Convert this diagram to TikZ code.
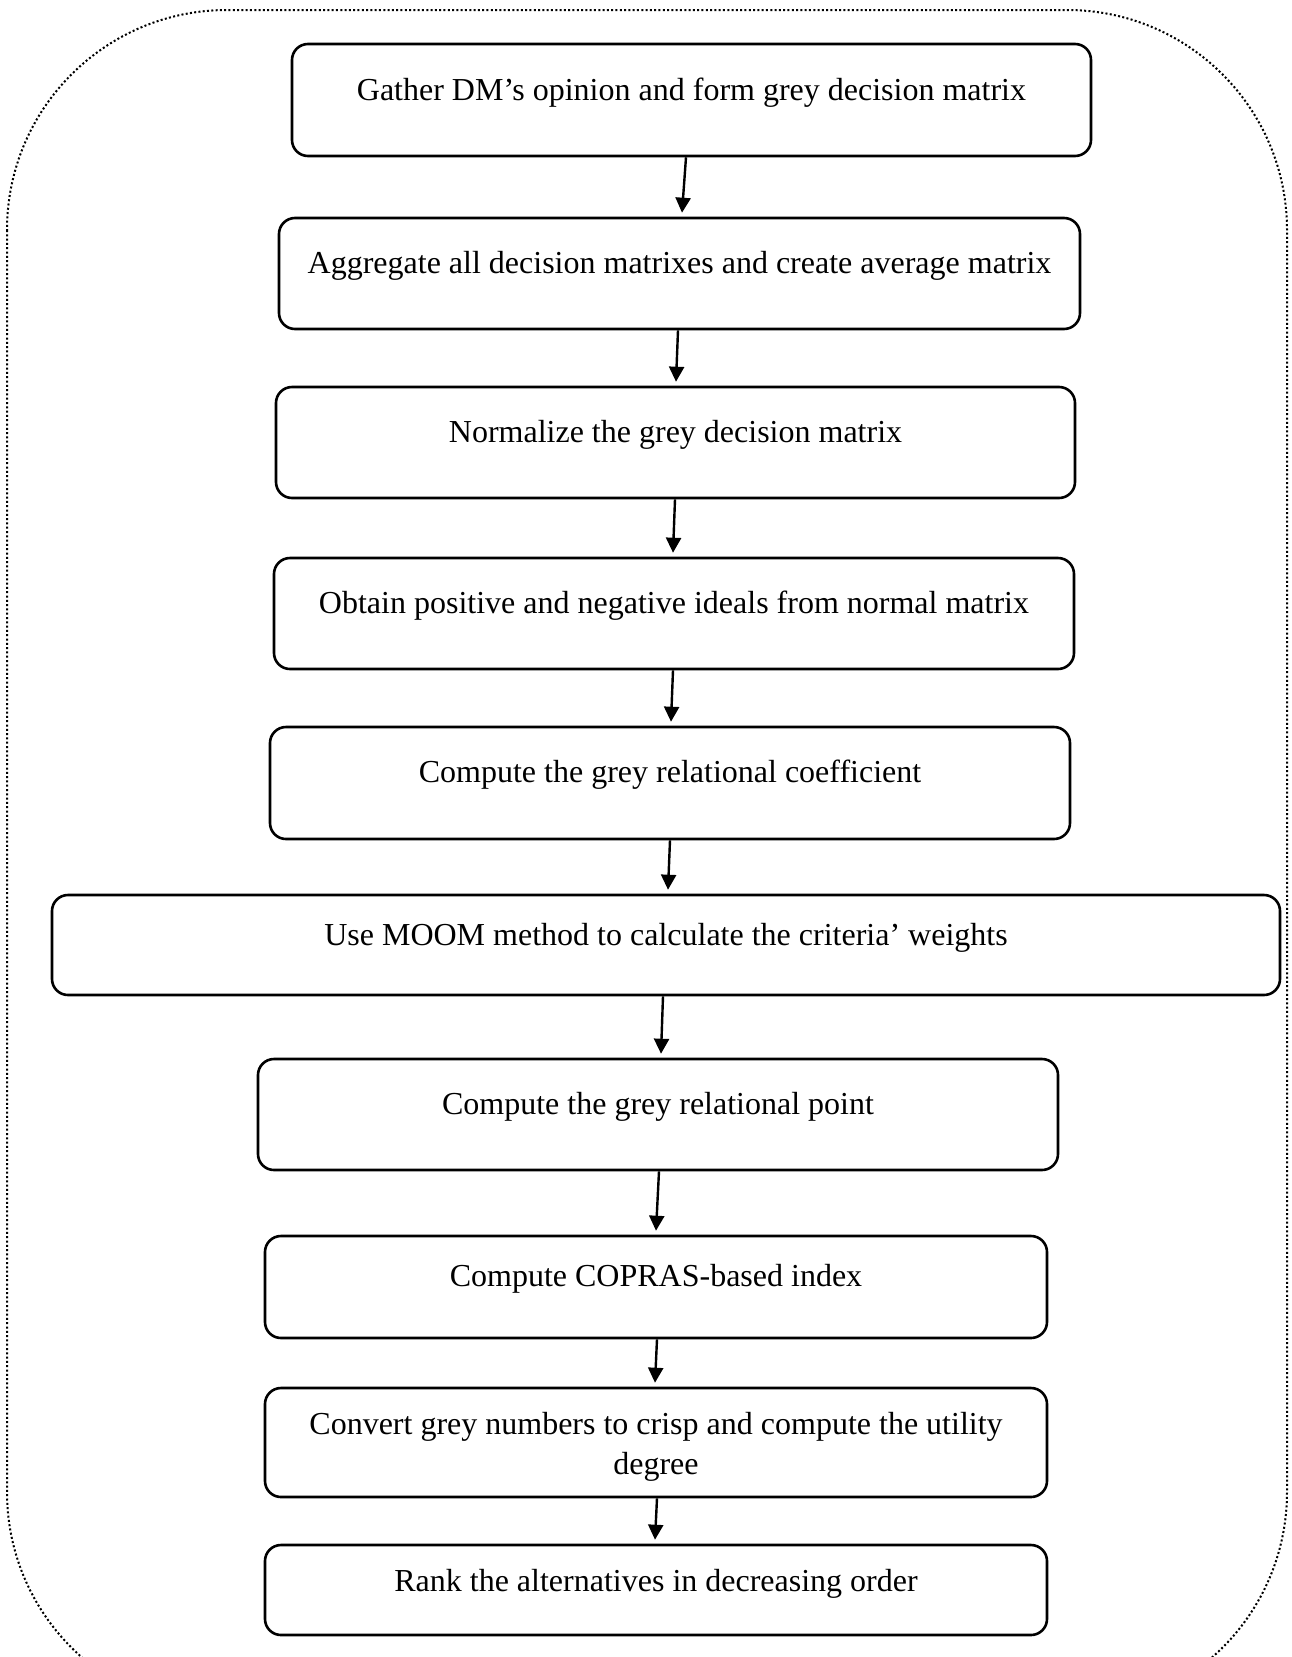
\documentclass[tikz,border=0pt]{standalone}
\usepackage{fontspec}
\setmainfont{Liberation Serif}
\usetikzlibrary{arrows.meta,calc}
\begin{document}
\begin{tikzpicture}[x=1pt,y=-1pt,
  stepbox/.style={draw=black,line width=2.6pt,rounded corners=16pt,inner sep=0pt,minimum width=800pt,minimum height=111pt},
  steptext/.style={anchor=base,inner sep=0pt,align=center,font=\fontsize{32}{40}\selectfont},
  flow/.style={line width=2.4pt,-{Triangle[length=15pt,width=15pt]}},
  frame/.style={line width=2pt,dash pattern=on 2pt off 2.3pt,rounded corners=220pt}]
\useasboundingbox (0,0) rectangle (1291,1657);
\draw[frame] (7,10) rectangle (1287,1712);
% boxes
\node[stepbox,minimum width=799pt,minimum height=112pt] (b1) at (691.5,100) {};
\node[stepbox,minimum width=801pt] (b2) at (679.5,273.5) {};
\node[stepbox,minimum width=799pt] (b3) at (675.5,442.5) {};
\node[stepbox] (b4) at (674,613.5) {};
\node[stepbox,minimum height=112pt] (b5) at (670,783) {};
\node[stepbox,minimum width=1228pt,minimum height=100pt] (b6) at (666,945) {};
\node[stepbox] (b7) at (658,1114.5) {};
\node[stepbox,minimum width=782pt,minimum height=102pt] (b8) at (656,1287) {};
\node[stepbox,minimum width=782pt,minimum height=109pt] (b9) at (656,1442.5) {};
\node[stepbox,minimum width=782pt,minimum height=90pt] (b10) at (656,1590) {};
% texts
\node[steptext] (t1) at ($(b1.north)+(0,58)$) {Gather DM’s opinion and form grey decision matrix};
\node[steptext] (t2) at ($(b2.north)+(0,57)$) {Aggregate all decision matrixes and create average matrix};
\node[steptext] (t3) at ($(b3.north)+(0,57)$) {Normalize the grey decision matrix};
\node[steptext] (t4) at ($(b4.north)+(0,57)$) {Obtain positive and negative ideals from normal matrix};
\node[steptext] (t5) at ($(b5.north)+(0,57)$) {Compute the grey relational coefficient};
\node[steptext] (t6) at ($(b6.north)+(0,52)$) {Use MOOM method to calculate the criteria’ weights};
\node[steptext] (t7) at ($(b7.north)+(0,57)$) {Compute the grey relational point};
\node[steptext] (t8) at ($(b8.north)+(0,52)$) {Compute COPRAS-based index};
\node[steptext] (t9a) at ($(b9.north)+(0,48)$) {Convert grey numbers to crisp and compute the utility};
\node[steptext] (t9b) at ($(b9.north)+(0,88)$) {degree};
\node[steptext] (t10) at ($(b10.north)+(0,48)$) {Rank the alternatives in decreasing order};
% arrows
\draw[flow] ([xshift=-5.5pt]b1.south) -- ([xshift=2.5pt,yshift=4pt]b2.north);
\draw[flow] ([xshift=-1.5pt]b2.south) -- ([xshift=0.5pt,yshift=4pt]b3.north);
\draw[flow] ([xshift=-0.5pt]b3.south) -- ([xshift=-1pt,yshift=4pt]b4.north);
\draw[flow] ([xshift=-1pt]b4.south) -- ([xshift=1pt,yshift=4pt]b5.north);
\draw[flow] (b5.south) -- ([xshift=2pt,yshift=4pt]b6.north);
\draw[flow] ([xshift=-3pt]b6.south) -- ([xshift=3pt,yshift=4pt]b7.north);
\draw[flow] ([xshift=1pt]b7.south) -- ([yshift=4pt]b8.north);
\draw[flow] ([xshift=1pt]b8.south) -- ([xshift=-1pt,yshift=4pt]b9.north);
\draw[flow] ([xshift=1pt]b9.south) -- ([xshift=-1pt,yshift=4pt]b10.north);
\end{tikzpicture}
\end{document}
